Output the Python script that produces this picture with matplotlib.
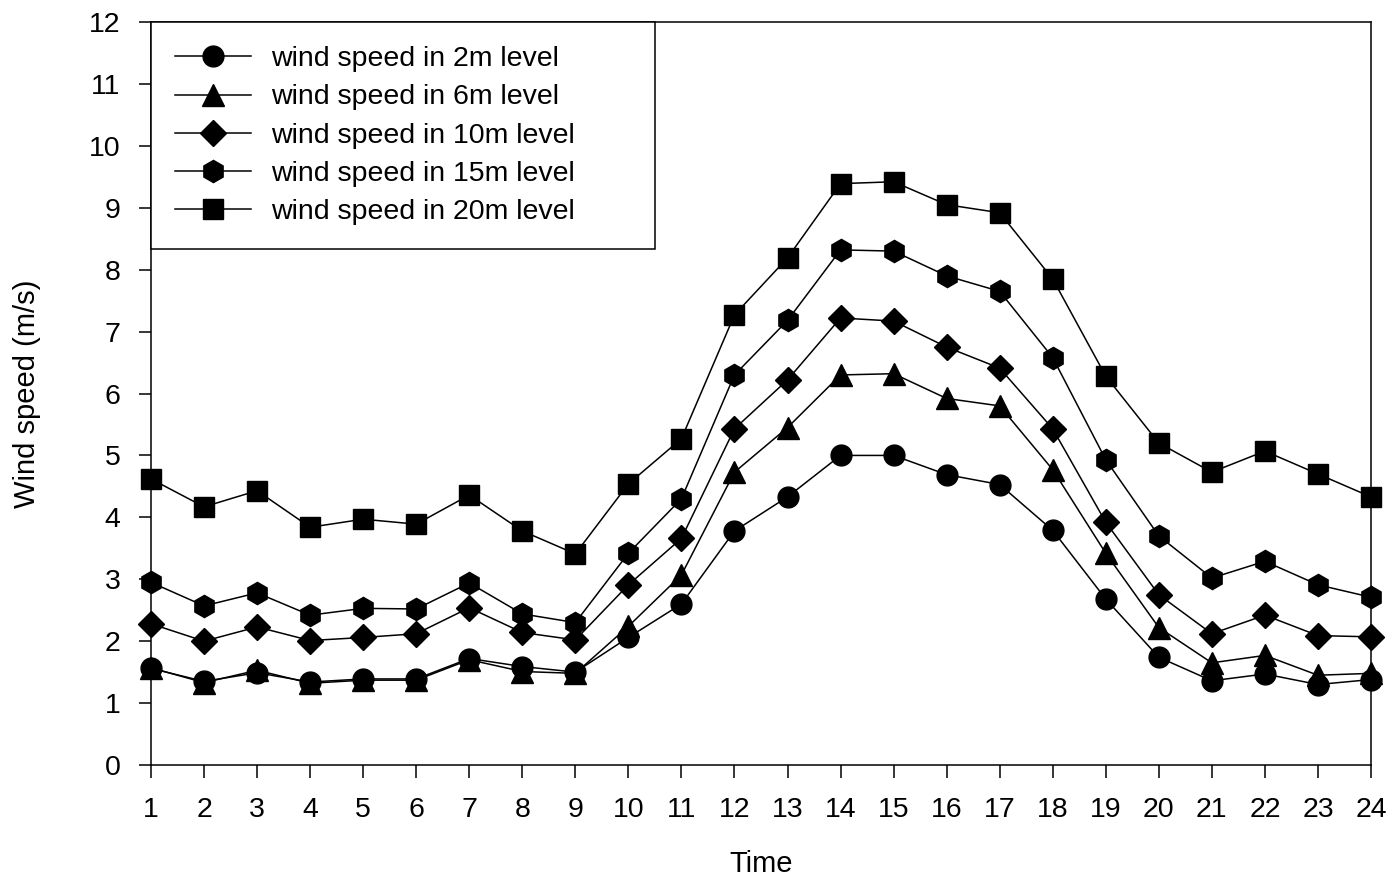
import matplotlib.pyplot as plt

plt.rcParams['font.family'] = ['Liberation Sans', 'DejaVu Sans']

hours = list(range(1, 25))

speed_2m = [1.56, 1.35, 1.49, 1.34, 1.39, 1.39, 1.72, 1.59, 1.50, 2.06, 2.60, 3.78,
            4.33, 5.00, 5.00, 4.69, 4.53, 3.79, 2.68, 1.74, 1.36, 1.47, 1.30, 1.38]
speed_6m = [1.57, 1.33, 1.53, 1.32, 1.37, 1.37, 1.70, 1.51, 1.48, 2.24, 3.07, 4.73,
            5.45, 6.30, 6.32, 5.92, 5.80, 4.77, 3.42, 2.22, 1.65, 1.77, 1.45, 1.48]
speed_10m = [2.28, 2.00, 2.23, 2.01, 2.06, 2.12, 2.54, 2.14, 2.02, 2.91, 3.66, 5.43,
             6.22, 7.22, 7.17, 6.75, 6.41, 5.43, 3.92, 2.75, 2.12, 2.42, 2.09, 2.07]
speed_15m = [2.95, 2.57, 2.78, 2.42, 2.53, 2.52, 2.94, 2.44, 2.30, 3.42, 4.30, 6.30,
             7.18, 8.32, 8.30, 7.90, 7.65, 6.58, 4.93, 3.70, 3.02, 3.29, 2.91, 2.71]
speed_20m = [4.62, 4.17, 4.43, 3.84, 3.97, 3.89, 4.36, 3.78, 3.41, 4.54, 5.27, 7.27,
             8.19, 9.39, 9.42, 9.05, 8.92, 7.85, 6.28, 5.20, 4.73, 5.07, 4.70, 4.33]

series = [
    (speed_2m, 'o', 15, 'wind speed in 2m level'),
    (speed_6m, '^', 16, 'wind speed in 6m level'),
    (speed_10m, 'D', 13, 'wind speed in 10m level'),
    (speed_15m, 'h', 16, 'wind speed in 15m level'),
    (speed_20m, 's', 15, 'wind speed in 20m level'),
]

fig = plt.figure(figsize=(13.93, 8.85), dpi=100)
ax = fig.add_axes([0.1084, 0.1356, 0.8758, 0.8395])

for i, (vals, marker, size, label) in enumerate(series):
    ax.plot(hours, vals, color='black', linewidth=1.1, marker=marker,
            markersize=size, markerfacecolor='black', markeredgecolor='black',
            label=label, zorder=10 - i, clip_on=False)

ax.set_xlim(1, 24)
ax.set_ylim(0, 12)
ax.set_xticks(hours)
ax.set_yticks(range(0, 13))
ax.tick_params(direction='out', length=9, width=1.1, labelsize=20.5)
ax.tick_params(axis='x', pad=14)
ax.tick_params(axis='y', pad=13)

for spine in ax.spines.values():
    spine.set_linewidth(1.1)

ax.set_xlabel('Time', fontsize=21)
ax.set_ylabel('Wind speed (m/s)', fontsize=21)
ax.xaxis.set_label_coords(0.5, -0.115)
ax.yaxis.set_label_coords(-0.09, 0.5)

# legend box spans the upper-left corner of the axes
leg = ax.legend(loc='upper left', bbox_to_anchor=(0, 1, 0.413, 0), mode='expand',
                borderaxespad=0, fontsize=20.5, frameon=True, fancybox=False,
                framealpha=1, edgecolor='black', handlelength=2.65,
                handletextpad=0.7, labelspacing=0.43, borderpad=0.85)
leg.get_frame().set_linewidth(1.1)

fig.savefig('out.png', dpi=100)
